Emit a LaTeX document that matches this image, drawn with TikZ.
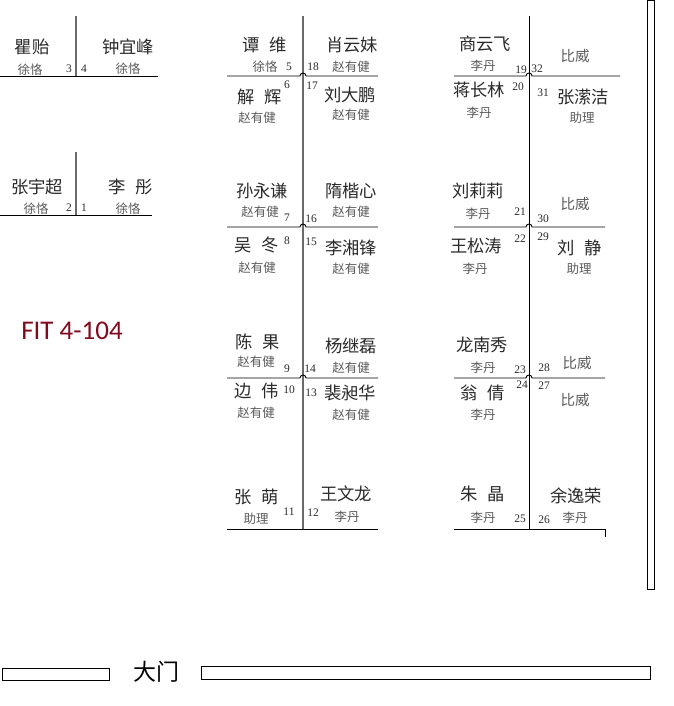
\documentclass[tikz,border=0pt]{standalone}
\usepackage{fontspec}
\setmainfont{Liberation Serif}
\newfontfamily\cjk{Noto Sans CJK SC}
\newfontfamily\fitfont{Carlito}
\definecolor{namec}{HTML}{2A2A2A}
\definecolor{subc}{HTML}{5A5A5A}
\definecolor{vline}{HTML}{6A6A6A}
\definecolor{fitc}{HTML}{800A1E}
\begin{document}
\begin{tikzpicture}[x=1pt,y=-1pt,
  nm/.style={font=\cjk\fontsize{17.3}{18}\selectfont,text=namec,inner sep=0pt},
  sb/.style={font=\cjk\fontsize{12.5}{13}\selectfont,text=subc,inner sep=0pt},
  bw/.style={font=\cjk\fontsize{14.5}{15}\selectfont,text=subc,inner sep=0pt},
  num/.style={font=\fontsize{11.5}{12}\selectfont,text=namec,inner sep=0pt},
  hl/.style={draw=black,line width=0.9pt},
  gv/.style={draw=vline,line width=1.3pt},
  bv/.style={draw=black,line width=1pt},
]
\useasboundingbox (0,0) rectangle (673,706);
\newcommand{\gp}{\hspace{0.55em}}
% ---------- left groups ----------
\draw[gv] (76,16) -- (76,76);
\draw[hl] (0,76) -- (158,76);
\node[nm] (n3) at (32,47) {瞿贻};
\node[nm] (n4) at (128,47) {钟宜峰};
\node[sb] (s3) at (30,70) {徐恪};
\node[sb] (s4) at (128,69) {徐恪};
\node[num] (k3) at (69,69) {3};
\node[num] (k4) at (84,69) {4};

\draw[gv] (76,152) -- (76,215);
\draw[hl] (0,215) -- (152,215);
\node[nm] (n2) at (37,187) {张宇超};
\node[nm] (n1) at (131,187) {李\gp 彤};
\node[sb] (s2) at (36,209) {徐恪};
\node[sb] (s1) at (128,209) {徐恪};
\node[num] (k2) at (69,208) {2};
\node[num] (k1) at (84,208) {1};

\node[font=\fitfont\fontsize{27}{27}\selectfont,text=fitc,inner sep=0pt] (fit) at (72,331) {FIT 4-104};

% ---------- middle column ----------
\draw[gv] (303,16) -- (303,530);
\foreach \yy in {76,227,378}{
  \draw[hl] (227,\yy) -- (300,\yy) arc[start angle=180,end angle=0,radius=3pt] -- (378,\yy);
}
\draw[hl] (227,529) -- (378,529);

\node[nm] (m5) at (265,45) {谭\gp 维};
\node[sb] (ms5) at (265,67) {徐恪};
\node[num] (mk5) at (289,67) {5};
\node[nm] (m18) at (352,45) {肖云妹};
\node[num] (mk18) at (313,67) {18};
\node[sb] (ms18) at (351,67) {赵有健};

\node[nm] (m6) at (260,97) {解\gp 辉};
\node[num] (mk6) at (287,85) {6};
\node[sb] (ms6) at (257,118) {赵有健};
\node[num] (mk17) at (312,86) {17};
\node[nm] (m17) at (350,95) {刘大鹏};
\node[sb] (ms17) at (351,115) {赵有健};

\node[nm] (m7) at (262,191) {孙永谦};
\node[sb] (ms7) at (260,212) {赵有健};
\node[num] (mk7) at (287,218) {7};
\node[nm] (m16) at (351,191) {隋楷心};
\node[num] (mk16) at (311,219) {16};
\node[sb] (ms16) at (351,212) {赵有健};

\node[nm] (m8) at (257,245) {吴\gp 冬};
\node[num] (mk8) at (287,241) {8};
\node[sb] (ms8) at (257,268) {赵有健};
\node[num] (mk15) at (311,242) {15};
\node[nm] (m15) at (351,248) {李湘锋};
\node[sb] (ms15) at (351,269) {赵有健};

\node[nm] (m9) at (258,342) {陈\gp 果};
\node[sb] (ms9) at (256,362) {赵有健};
\node[num] (mk9) at (287,369) {9};
\node[nm] (m14) at (351,346) {杨继磊};
\node[num] (mk14) at (310,369) {14};
\node[sb] (ms14) at (351,368) {赵有健};

\node[nm] (m10) at (257,391) {边\gp 伟};
\node[num] (mk10) at (289,390) {10};
\node[sb] (ms10) at (256,413) {赵有健};
\node[num] (mk13) at (311,393) {13};
\node[nm] (m13) at (350,393) {裴昶华};
\node[sb] (ms13) at (351,415) {赵有健};

\node[nm] (m11) at (257,497) {张\gp 萌};
\node[sb] (ms11) at (256,519) {助理};
\node[num] (mk11) at (289,512) {11};
\node[nm] (m12) at (346,494) {王文龙};
\node[num] (mk12) at (313,513) {12};
\node[sb] (ms12) at (347,517) {李丹};

% ---------- right column ----------
\draw[bv] (529,16) -- (529,529);
\draw[hl] (454,76) -- (526,76) arc[start angle=180,end angle=0,radius=3pt] -- (620,76);
\draw[hl] (454,227) -- (526,227) arc[start angle=180,end angle=0,radius=3pt] -- (605,227);
\draw[hl] (454,378) -- (526,378) arc[start angle=180,end angle=0,radius=3pt] -- (605,378);
\draw[hl] (454,529) -- (605,529) -- (605,537);

\node[nm] (r19) at (485,44) {商云飞};
\node[sb] (rs19) at (483,66) {李丹};
\node[num] (rk19) at (521,70) {19};
\node[num] (rk32) at (537,69) {32};
\node[bw] (r32) at (575,56) {比威};

\node[nm] (r20) at (479,90) {蒋长林};
\node[num] (rk20) at (518,87) {20};
\node[sb] (rs20) at (479,113) {李丹};
\node[num] (rk31) at (543,93) {31};
\node[nm] (r31) at (583,97) {张潆洁};
\node[sb] (rs31) at (582,118) {助理};

\node[nm] (r21) at (478,191) {刘莉莉};
\node[sb] (rs21) at (478,214) {李丹};
\node[num] (rk21) at (520,212) {21};
\node[num] (rk30) at (543,219) {30};
\node[bw] (r30) at (575,204) {比威};

\node[nm] (r22) at (476,246) {王松涛};
\node[sb] (rs22) at (475,269) {李丹};
\node[num] (rk22) at (520,239) {22};
\node[num] (rk29) at (543,237) {29};
\node[nm] (r29) at (580,248) {刘\gp 静};
\node[sb] (rs29) at (579,269) {助理};

\node[nm] (r23) at (482,345) {龙南秀};
\node[sb] (rs23) at (483,368) {李丹};
\node[num] (rk23) at (520,370) {23};
\node[num] (rk28) at (544,368) {28};
\node[bw] (r28) at (577,363) {比威};

\node[nm] (r24) at (483,393) {翁\gp 倩};
\node[sb] (rs24) at (483,415) {李丹};
\node[num] (rk24) at (522,385) {24};
\node[num] (rk27) at (544,386) {27};
\node[bw] (r27) at (575,400) {比威};

\node[nm] (r25) at (483,494) {朱\gp 晶};
\node[sb] (rs25) at (483,518) {李丹};
\node[num] (rk25) at (520,519) {25};
\node[num] (rk26) at (544,520) {26};
\node[nm] (r26) at (576,496) {余逸荣};
\node[sb] (rs26) at (575,518) {李丹};

% ---------- walls ----------
\draw[line width=1pt] (647,1) rectangle (654,589);
\draw[line width=0.9pt] (2,668) rectangle (109,680);
\draw[line width=0.9pt] (201,666) rectangle (650,679);
\node[font=\cjk\fontsize{23}{23}\selectfont,text=black,inner sep=0pt] (gate) at (156,672) {大门};
\end{tikzpicture}
\end{document}
